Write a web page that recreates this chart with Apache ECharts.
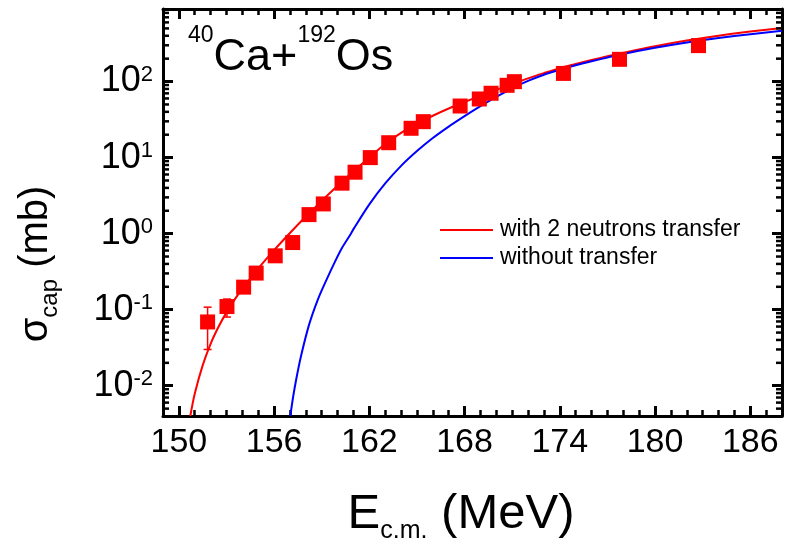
<!DOCTYPE html>
<html><head><meta charset="utf-8">
<script src="https://cdn.jsdelivr.net/npm/echarts@6/dist/echarts.min.js"></script>
<style>html,body{margin:0;padding:0;background:#fff}#c{width:796px;height:551px}</style>
</head><body><div id="c"></div>
<script>
// ---- axis ranges & ticks ----
const xMin = 149, xMax = 188;
const yMin = 0.004, yMax = 900;
const xMajorTicks = [150, 156, 162, 168, 174, 180, 186];
const xMinorTicks = [151,152,153,154,155,157,158,159,160,161,163,164,165,166,167,169,170,171,172,173,175,176,177,178,179,181,182,183,184,185,187];
const yMinorTicks = [0.005,0.006,0.007,0.008,0.009,0.02,0.03,0.04,0.05,0.06,0.07,0.08,0.09,0.2,0.3,0.4,0.5,0.6,0.7,0.8,0.9,2,3,4,5,6,7,8,9,20,30,40,50,60,70,80,90,200,300,400,500,600,700,800];

// ---- experimental data ----
const expE = [151.81,153.03,154.08,154.87,156.07,157.17,158.2,159.1,160.28,161.1,162.06,163.22,164.63,165.4,167.72,168.93,169.67,170.68,171.14,174.23,177.76,182.74];
const expSigma = [0.069,0.110,0.198,0.303,0.511,0.764,1.78,2.46,4.61,6.43,10.0,15.7,24.3,29.7,47.7,59,70.2,89.3,99.7,128,196,297];
const errE = [151.81, 153.03];
const errLow = [0.030, 0.080];
const errHigh = [0.108, 0.138];

// ---- calculations ----
const with2nE = [150.72,151.0,151.5,152.0,152.5,153.0,153.5,154,155,156,157,158,159,160,161,162,163,164,165,166,167,168,169,170,171,172,173,174,175,176,177,178,180,182,184,186,188];
const with2nSigma = [0.004,0.00785,0.01854,0.0356,0.0596,0.0922,0.1346,0.189,0.348,0.607,1.021,1.678,2.70,4.26,6.60,10.06,15.1,21.1,27.9,35.5,44.2,53.9,65.1,77.8,92.2,110,129,150,170,192,215,239,291,346,401,455,506];
const withoutE = [157.02,157.2,157.4,157.7,158.2,158.75,159.3,159.8,160.3,160.84,161,162,163,164,165,166,167,168,169,170,171,172,173,174,175,176,177,178,180,182,184,186,188];
const withoutSigma = [0.004,0.00717,0.01236,0.0248,0.0632,0.135,0.247,0.413,0.661,1.0,1.146,2.43,4.57,7.79,12.2,18.1,25.6,35.1,47.5,63.0,81.6,102,123,143,164,185,207,231,278,327,374,420,467];

const seriesNames = ['with 2 neutrons transfer', 'without transfer'];
const FONT = '"Liberation Sans", Arial, Helvetica, sans-serif';
const TICK = '#000';

function logLabel(v) {
  const e = Math.log10(v), r = Math.round(e);
  if (Math.abs(e - r) > 1e-6) return '';
  return '10{sup|' + r + '}';
}

// y minor ticks on left and right frame edges, placed through the log scale
function yTickSeries(ticks, len, width) {
  return { type: 'custom', silent: true, z: 6,
    data: ticks.map(v => [(xMin + xMax) / 2, v]),
    renderItem: function (params, api) {
      const v = api.value(1);
      const l = api.coord([xMin, v]);
      const r = api.coord([xMax, v]);
      const st = { stroke: TICK, lineWidth: width };
      return { type: 'group', children: [
        { type: 'line', shape: { x1: l[0], y1: l[1], x2: l[0] + len, y2: l[1] }, style: st },
        { type: 'line', shape: { x1: r[0], y1: r[1], x2: r[0] - len, y2: r[1] }, style: st }
      ] };
    } };
}

const frame = { show: true, lineStyle: { color: '#000', width: 3 } };
function xAx(pos, ticks, len, width, labels, line) {
  return { type: 'value', min: xMin, max: xMax, position: pos, splitLine: { show: false },
    axisLine: line ? frame : { show: false },
    axisTick: { show: true, inside: true, length: len, customValues: ticks, lineStyle: { color: TICK, width: width } },
    axisLabel: labels ? { show: true, customValues: xMajorTicks, fontSize: 34, fontFamily: FONT, color: '#000', margin: 10 } : { show: false } };
}
function yAx(pos, labels) {
  return { type: 'log', min: yMin, max: yMax, position: pos, splitLine: { show: false }, axisLine: frame,
    axisTick: { show: true, inside: true, length: 10, lineStyle: { color: TICK, width: 3 } },
    axisLabel: labels ? { show: true, formatter: logLabel, fontSize: 36, fontFamily: FONT, color: '#000', margin: 10,
        rich: { sup: { fontSize: 22, fontFamily: FONT, color: '#000', verticalAlign: 'top' } } } : { show: false } };
}

const option = {
  animation: false,
  backgroundColor: '#fff',
  grid: { left: 163, right: 14, top: 9, bottom: 135 },
  legend: {
    data: seriesNames, orient: 'vertical', left: 440, top: 217,
    icon: 'rect', itemWidth: 53, itemHeight: 2, itemGap: 2, padding: 0,
    textStyle: { fontSize: 23, lineHeight: 26, fontFamily: FONT, color: '#000', padding: [0, 0, 0, 2] }
  },
  xAxis: [
    xAx('bottom', xMajorTicks, 10, 3, true, true),
    xAx('bottom', xMinorTicks, 6, 2.5, false, false),
    xAx('top', xMajorTicks, 10, 3, false, true),
    xAx('top', xMinorTicks, 6, 2.5, false, false)
  ],
  yAxis: [ yAx('left', true), yAx('right', false) ],
  graphic: [
    { type: 'text', x: 188, y: 24, silent: true,
      style: { text: '{sup|40}{big|Ca+}{sup|192}{big|Os}', align: 'left', verticalAlign: 'top',
        rich: { sup: { fontSize: 23, lineHeight: 23, verticalAlign: 'top', fontFamily: FONT, fill: '#000' },
                big: { fontSize: 45, lineHeight: 68, fontFamily: FONT, fill: '#000' } } } },
    { type: 'text', x: 461, y: 514, silent: true,
      style: { text: '{e|E}{s|c.m.}{e| (MeV)}', align: 'center', verticalAlign: 'middle',
        rich: { e: { fontSize: 49, lineHeight: 60, fontFamily: FONT, fill: '#000' },
                s: { fontSize: 25, lineHeight: 25, verticalAlign: 'bottom', fontFamily: FONT, fill: '#000' } } } },
    { type: 'text', x: 36, y: 264, rotation: Math.PI / 2, silent: true,
      style: { text: '{e|σ}{s|cap}{e| (mb)}', align: 'center', verticalAlign: 'middle',
        rich: { e: { fontSize: 40, lineHeight: 52, fontFamily: FONT, fill: '#000' },
                s: { fontSize: 24, lineHeight: 24, verticalAlign: 'bottom', fontFamily: FONT, fill: '#000' } } } }
  ],
  series: [
    { type: 'line', name: seriesNames[0], symbol: 'none', smooth: 0.3,
      lineStyle: { color: '#ff0000', width: 2 }, itemStyle: { color: '#ff0000' },
      data: with2nE.map((e, i) => [e, with2nSigma[i]]) },
    { type: 'line', name: seriesNames[1], symbol: 'none', smooth: 0.3,
      lineStyle: { color: '#0000ff', width: 2 }, itemStyle: { color: '#0000ff' },
      data: withoutE.map((e, i) => [e, withoutSigma[i]]) },
    { type: 'custom', silent: true,
      data: errE.map((e, i) => [e, errLow[i], errHigh[i]]),
      renderItem: function (params, api) {
        const lo = api.coord([api.value(0), api.value(1)]);
        const hi = api.coord([api.value(0), api.value(2)]);
        const w = 4;
        const st = { stroke: '#ff0000', lineWidth: 1.5 };
        return { type: 'group', children: [
          { type: 'line', shape: { x1: lo[0], y1: lo[1], x2: hi[0], y2: hi[1] }, style: st },
          { type: 'line', shape: { x1: lo[0] - w, y1: lo[1], x2: lo[0] + w, y2: lo[1] }, style: st },
          { type: 'line', shape: { x1: hi[0] - w, y1: hi[1], x2: hi[0] + w, y2: hi[1] }, style: st }
        ] };
      } },
    { type: 'scatter', name: 'exp', symbol: 'rect', symbolSize: 15, z: 5,
      itemStyle: { color: '#ff0000', opacity: 1 }, data: expE.map((e, i) => [e, expSigma[i]]) },
    yTickSeries(yMinorTicks, 6, 2.5)
  ]
};
const chart = echarts.init(document.getElementById('c'));
chart.setOption(option);
</script></body></html>
